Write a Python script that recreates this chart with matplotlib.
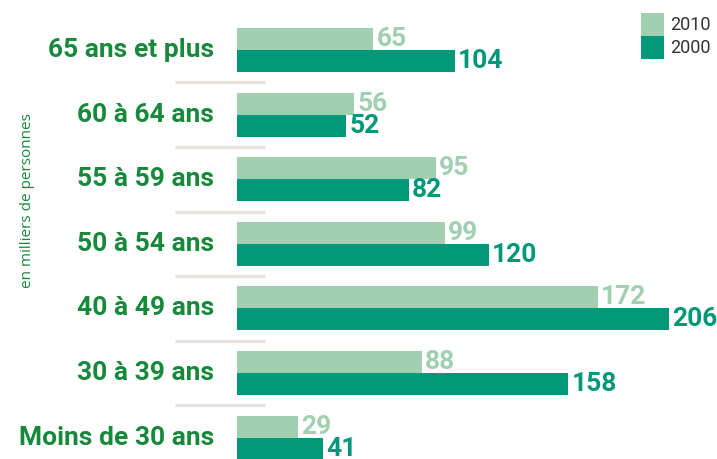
import matplotlib
matplotlib.use("Agg")
import matplotlib.pyplot as plt
import numpy as np

categories = ["65 ans et plus", "60 à 64 ans", "55 à 59 ans", "50 à 54 ans",
              "40 à 49 ans", "30 à 39 ans", "Moins de 30 ans"]
values_2010 = [65, 56, 95, 99, 172, 88, 29]
values_2000 = [104, 52, 82, 120, 206, 158, 41]
series_labels = ["2010", "2000"]
ylabel = "en milliers de personnes"

c_light = "#a0d0b0"
c_dark = "#009879"
c_cat = "#17893b"
c_sep = "#e9e2d8"

plt.rcParams['font.family'] = ['Roboto', 'DejaVu Sans']

W, H = 717, 459
fig = plt.figure(figsize=(W / 100, H / 100), dpi=100)
ax = fig.add_axes([0, 0, 1, 1])

px_per_unit = 2.097
x0_px = 237
ax.set_xlim(-x0_px / px_per_unit, (W - x0_px) / px_per_unit)
grp_px = 64.6
first_px = 50
ax.set_ylim((H - first_px) / grp_px, -first_px / grp_px)
ax.axis("off")

idx = np.arange(len(categories))
bh = 22 / grp_px
ax.barh(idx - bh / 2, values_2010, height=bh, color=c_light, linewidth=0)
ax.barh(idx + bh / 2, values_2000, height=bh, color=c_dark, linewidth=0)

pad = 1.5
for i, (a, b) in enumerate(zip(values_2010, values_2000)):
    ax.text(a + pad, i - bh / 2, str(a), color=c_light, fontsize=19,
            fontweight="bold", va="center", ha="left")
    ax.text(b + pad, i + bh / 2, str(b), color=c_dark, fontsize=19,
            fontweight="bold", va="center", ha="left")
    ax.text(-23 / px_per_unit, i, categories[i], color=c_cat, fontsize=19,
            fontweight="bold", va="center", ha="right")

# separators between groups
for i in range(len(categories) - 1):
    ax.plot([-62 / px_per_unit, 28 / px_per_unit], [i + 0.5, i + 0.5],
            color=c_sep, lw=2.5, solid_capstyle="butt")

# y label
fig.text(28 / W, 1 - 201 / H, ylabel, rotation=90, color=c_cat,
         fontsize=11, va="center", ha="center", fontfamily=['Open Sans', 'DejaVu Sans'])

# legend
lx, lw_ = 641, 23
for k, (lab, col) in enumerate(zip(series_labels, [c_light, c_dark])):
    y_top = 13 + k * 23
    fig.patches.append(plt.Rectangle((lx / W, 1 - (y_top + 23) / H), lw_ / W, 23 / H,
                                     transform=fig.transFigure, color=col, lw=0))
    fig.text(670 / W, 1 - (y_top + 12) / H, lab, color="#333333", fontsize=13,
             va="center", ha="left")

fig.savefig("out.png", dpi=100)
